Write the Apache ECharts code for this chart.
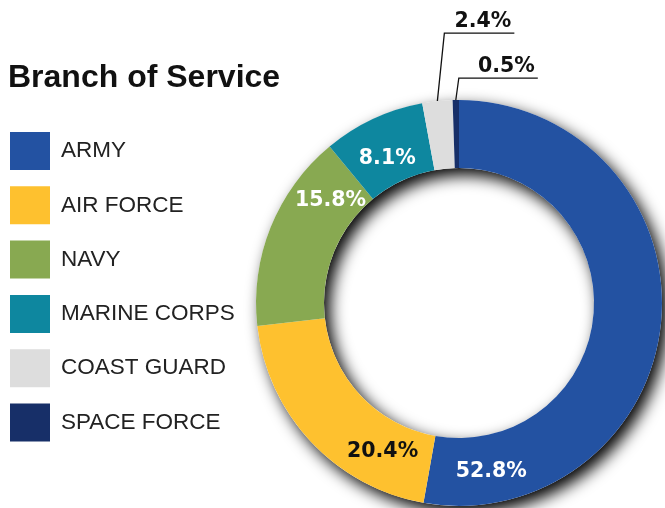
<!DOCTYPE html>
<html><head><meta charset="utf-8">
<script src="https://cdn.jsdelivr.net/npm/echarts@6/dist/echarts.min.js"></script>
<style>html,body{margin:0;padding:0;background:#fff}#c{width:665px;height:508px}</style>
</head><body><div id="c"></div>
<script>
// ---- data ----
const categories = ['ARMY', 'AIR FORCE', 'NAVY', 'MARINE CORPS', 'COAST GUARD', 'SPACE FORCE'];
const values = [52.8, 20.4, 15.8, 8.1, 2.4, 0.5];
const titleText = 'Branch of Service';

// ---- styling ----
const colors = ['#2352A2', '#FEC12F', '#88A951', '#0E879F', '#DDDDDD', '#172F68'];
const labelColors = ['#ffffff', '#111111', '#ffffff', '#ffffff', '#111111', '#111111'];
const insideOffsets = [[-139, 154], [49, 31], [31, -38], [1, 12], null, null];
const leaderBends = [null, null, null, null, [7, -68, 70], [3, -22, 79]];

const CENTER = [459, 303];
const RADII = [135, 203];

const chart = echarts.init(document.getElementById('c'), null, {renderer: 'canvas'});

const pieData = categories.map((name, i) => {
  const outside = leaderBends[i] !== null;
  return {
    name: name,
    value: values[i],
    itemStyle: {color: colors[i]},
    label: outside ? {
      position: 'outside',
      color: labelColors[i]
    } : {
      position: 'inside',
      offset: insideOffsets[i],
      color: labelColors[i]
    },
    labelLine: {show: outside}
  };
});

chart.setOption({
  animation: false,
  backgroundColor: '#ffffff',
  title: {
    text: titleText,
    left: 8,
    top: 62,
    padding: 0,
    textStyle: {
      fontFamily: 'Liberation Sans, Arial, sans-serif',
      fontWeight: 'bold',
      fontSize: 32,
      color: '#111111'
    }
  },
  legend: {
    orient: 'vertical',
    left: 10,
    top: 132,
    padding: 0,
    itemWidth: 40,
    itemHeight: 38,
    itemGap: 16.3,
    icon: 'rect',
    selectedMode: false,
    data: categories,
    textStyle: {
      fontFamily: 'Liberation Sans, Arial, sans-serif',
      fontSize: 22.5,
      color: '#222222',
      padding: [0, 0, 0, 6]
    }
  },
  series: [
    {
      type: 'pie',
      name: 'shadow',
      silent: true,
      center: CENTER,
      radius: RADII,
      z: 1,
      label: {show: false},
      labelLine: {show: false},
      itemStyle: {
        color: '#ffffff',
        shadowBlur: 16,
        shadowOffsetX: 6,
        shadowOffsetY: 7,
        shadowColor: 'rgba(0,0,0,1)'
      },
      data: [{value: 1, name: '_bg'}]
    },
    {
      type: 'pie',
      name: 'Branch of Service',
      center: CENTER,
      radius: RADII,
      startAngle: 90,
      clockwise: true,
      z: 2,
      avoidLabelOverlap: false,
      silent: true,
      data: pieData,
      label: {
        show: true,
        formatter: '{c}%',
        fontFamily: 'DejaVu Sans, sans-serif',
        fontWeight: 'bold',
        fontSize: 20.5
      },
      labelLine: {
        length: 20,
        length2: 40,
        lineStyle: {color: '#111111', width: 1.3}
      },
      labelLayout: function (p) {
        const b = leaderBends[p.dataIndex];
        if (!b || !p.labelLinePoints) return {};
        const p0 = p.labelLinePoints[0];
        const p1 = [p0[0] + b[0], p0[1] + b[1]];
        const p2 = [p1[0] + b[2], p1[1]];
        return {
          x: p2[0] - 3,
          y: p1[1] - 1,
          align: 'right',
          verticalAlign: 'bottom',
          labelLinePoints: [p0, p1, p2]
        };
      }
    }
  ]
});
</script>
</body></html>
